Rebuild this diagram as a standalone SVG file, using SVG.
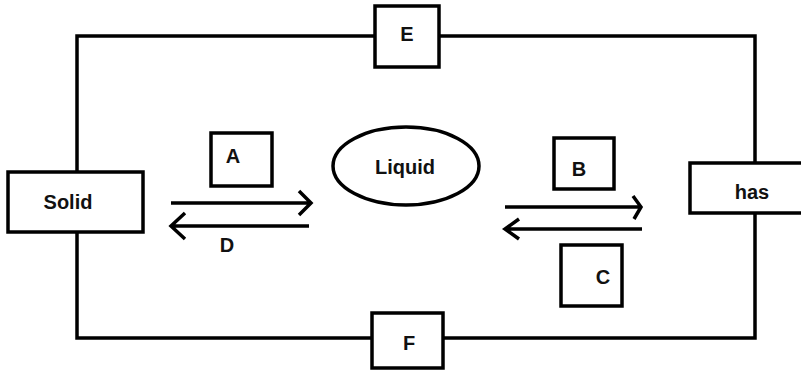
<svg xmlns="http://www.w3.org/2000/svg" width="801" height="371" viewBox="0 0 801 371">
<style>
.ln{fill:none;stroke:#000;stroke-width:3.5}
.bx{fill:#fff;stroke:#000;stroke-width:3.5}
.t{font-family:"Liberation Sans",Arial,sans-serif;font-weight:bold;font-size:20px;fill:#111;text-anchor:middle}
</style>
<rect width="801" height="371" fill="#fff"/>
<g id="connectors">
<path class="ln" d="M77,172 V36 H755 V163 M755,213 V338 H77 V232"/>
<path class="ln" d="M171,203 H310 M299,191 L311,203 L299,215"/>
<path class="ln" d="M309,226 H171 M185,213 L171,226 L185,239"/>
<path class="ln" d="M505,207 H641 M633,196 L641,207 L634,219"/>
<path class="ln" d="M642,229 H505 M519,219 L505,229 L519,239"/>
</g>
<g id="solid"><rect class="bx" x="8" y="172" width="135" height="60"/><text class="t" x="68" y="209">Solid</text></g>
<g id="liquid"><ellipse class="bx" cx="406" cy="166" rx="73" ry="39"/><text class="t" x="405" y="174">Liquid</text></g>
<g id="has"><rect class="bx" x="690" y="163" width="115" height="50"/><text class="t" x="752" y="199">has</text></g>
<g id="A"><rect class="bx" x="211" y="133" width="61" height="53"/><text class="t" x="233" y="163">A</text></g>
<g id="B"><rect class="bx" x="554" y="138" width="60" height="51"/><text class="t" x="579" y="176">B</text></g>
<g id="C"><rect class="bx" x="561" y="245" width="61" height="61"/><text class="t" x="603" y="284">C</text></g>
<g id="D"><text class="t" x="227" y="252">D</text></g>
<g id="E"><rect class="bx" x="375" y="6" width="64" height="61"/><text class="t" x="407" y="41">E</text></g>
<g id="F"><rect class="bx" x="372" y="313" width="71" height="55"/><text class="t" x="409" y="350">F</text></g>
</svg>
